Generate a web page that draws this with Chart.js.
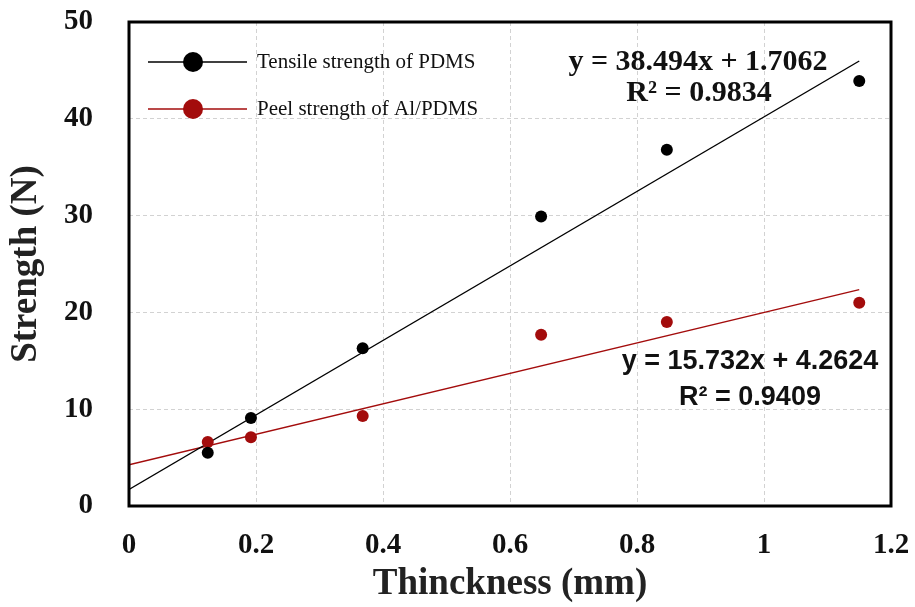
<!DOCTYPE html>
<html>
<head>
<meta charset="utf-8">
<script src="https://cdn.jsdelivr.net/npm/chart.js@4/dist/chart.umd.min.js"></script>
<style>
  html, body { margin: 0; padding: 0; background: #fff; }
  #wrap { width: 915px; height: 607px; position: relative; }
</style>
</head>
<body>
<div id="wrap"><canvas id="strength-chart" width="915" height="607"></canvas></div>
<script>
// thickness (mm) of each sample
const thickness = [0.124, 0.192, 0.368, 0.649, 0.847, 1.15];
// measured strength (N)
const tensile = [5.5, 9.1, 16.3, 29.9, 36.8, 43.9];
const peel = [6.6, 7.1, 9.3, 17.7, 19.0, 21.0];
// linear trendline end points
const trendX = [0, 1.15];
const tensileTrend = [1.71, 45.97];
const peelTrend = [4.26, 22.35];
const xTicks = [0, 0.2, 0.4, 0.6, 0.8, 1, 1.2];
const yTicks = [0, 10, 20, 30, 40, 50];

const BLACK = '#000000';
const RED = '#a30c0c';

const toPts = (xs, ys) => xs.map((x, i) => ({ x: x, y: ys[i] }));

/* frame, legend and equations drawn on top */
const extras = {
    id: 'extras',
    afterDraw(chart) {
        const ctx = chart.ctx;
        const a = chart.chartArea;
        ctx.save();
        ctx.strokeStyle = '#000';
        ctx.lineWidth = 3;
        ctx.strokeRect(a.left, a.top, a.right - a.left, a.bottom - a.top);

        // legend
        const rows = [
            { text: 'Tensile strength of PDMS', color: BLACK, y: 62 },
            { text: 'Peel strength of Al/PDMS', color: RED, y: 109 }
        ];
        rows.forEach(r => {
            ctx.strokeStyle = r.color;
            ctx.lineWidth = 1.5;
            ctx.beginPath();
            ctx.moveTo(148, r.y);
            ctx.lineTo(247, r.y);
            ctx.stroke();
            ctx.fillStyle = r.color;
            ctx.beginPath();
            ctx.arc(193, r.y, 10, 0, Math.PI * 2);
            ctx.fill();
            ctx.fillStyle = '#111';
            ctx.font = '21px "Liberation Serif", serif';
            ctx.textAlign = 'left';
            ctx.textBaseline = 'middle';
            ctx.fillText(r.text, 257, r.y);
        });

        // equations
        ctx.textAlign = 'center';
        ctx.textBaseline = 'middle';
        ctx.fillStyle = '#111';
        ctx.font = 'bold 30px "Liberation Serif", serif';
        ctx.fillText('y = 38.494x + 1.7062', 698, 62);
        ctx.fillText('R² = 0.9834', 699, 93);
        ctx.font = 'bold 27px "Liberation Sans", sans-serif';
        ctx.fillText('y = 15.732x + 4.2624', 750, 362);
        ctx.fillText('R² = 0.9409', 750, 398);
        ctx.restore();
    }
};

const gridStyle = {
    color: '#d2d2d2',
    lineWidth: 1,
    drawTicks: false
};

new Chart(document.getElementById('strength-chart'), {
    type: 'scatter',
    data: {
        datasets: [
            {
                label: 'Tensile strength of PDMS',
                data: toPts(thickness, tensile),
                backgroundColor: BLACK,
                borderColor: BLACK,
                pointRadius: 6,
                pointBorderWidth: 0
            },
            {
                label: 'Peel strength of Al/PDMS',
                data: toPts(thickness, peel),
                backgroundColor: RED,
                borderColor: RED,
                pointRadius: 6,
                pointBorderWidth: 0
            },
            {
                label: 'tensile trend',
                type: 'line',
                data: toPts(trendX, tensileTrend),
                borderColor: BLACK,
                borderWidth: 1.4,
                pointRadius: 0,
                fill: false
            },
            {
                label: 'peel trend',
                type: 'line',
                data: toPts(trendX, peelTrend),
                borderColor: RED,
                borderWidth: 1.4,
                pointRadius: 0,
                fill: false
            }
        ]
    },
    options: {
        responsive: false,
        animation: false,
        devicePixelRatio: 1,
        layout: { padding: { top: 22, right: 24, left: 0, bottom: 0 } },
        plugins: {
            legend: { display: false },
            tooltip: { enabled: false }
        },
        scales: {
            x: {
                type: 'linear',
                min: 0,
                max: 1.2,
                afterBuildTicks: axis => { axis.ticks = xTicks.map(v => ({ value: v })); },
                afterFit: axis => {
                    axis.height = 101;
                    axis.paddingLeft = 0;
                    axis.paddingRight = 0;
                },
                grid: { ...gridStyle },
                border: { display: false, dash: [4, 3] },
                ticks: {
                    color: '#111',
                    padding: 22,
                    maxRotation: 0,
                    font: { family: '"Liberation Serif", serif', size: 29, weight: 'bold' },
                    callback: v => String(v)
                },
                title: {
                    display: true,
                    text: 'Thinckness (mm)',
                    color: '#222',
                    padding: { top: 0, bottom: 4 },
                    font: { family: '"Liberation Serif", serif', size: 37, weight: 'bold', lineHeight: 1 }
                }
            },
            y: {
                min: 0,
                max: 50,
                afterBuildTicks: axis => { axis.ticks = yTicks.map(v => ({ value: v })); },
                afterFit: axis => {
                    axis.width = 129;
                    axis.paddingTop = 0;
                    axis.paddingBottom = 0;
                },
                grid: { ...gridStyle },
                border: { display: false, dash: [4, 3] },
                ticks: {
                    color: '#111',
                    padding: 36,
                    font: { family: '"Liberation Serif", serif', size: 29, weight: 'bold' }
                },
                title: {
                    display: true,
                    text: 'Strength (N)',
                    color: '#222',
                    padding: { top: 8, bottom: 0 },
                    font: { family: '"Liberation Serif", serif', size: 37, weight: 'bold', lineHeight: 1 }
                }
            }
        }
    },
    plugins: [extras]
});
</script>
</body>
</html>
